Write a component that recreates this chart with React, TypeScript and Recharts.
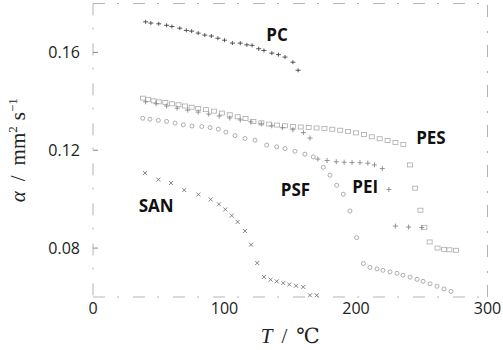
import { ScatterChart, Scatter, XAxis, YAxis, ReferenceLine, ReferenceDot } from 'recharts'

// T in °C, alpha in mm^2/s
const PC_T = [40, 44, 50, 56, 60, 66, 71, 75, 80, 85, 90, 95, 100, 106, 112, 117, 121, 126, 130, 136, 141, 146, 152, 156]
const PC_A = [0.1725, 0.172, 0.1717, 0.1711, 0.1706, 0.1699, 0.169, 0.1687, 0.1679, 0.1671, 0.1667, 0.1658, 0.165, 0.1638, 0.1638, 0.1631, 0.1629, 0.1615, 0.1608, 0.1597, 0.1591, 0.1581, 0.156, 0.1527]

const PES_T = [38, 42, 46, 50, 55, 60, 65, 70, 75, 80, 86, 92, 98, 104, 110, 116, 122, 128, 134, 140, 146, 152, 158, 164, 170, 176, 182, 188, 194, 200, 206, 212, 218, 224, 230, 236, 241, 245, 249, 252, 256, 262, 267, 271, 276]
const PES_A = [0.1413, 0.1408, 0.1402, 0.1398, 0.1395, 0.139, 0.1386, 0.1381, 0.1376, 0.1371, 0.1366, 0.136, 0.1352, 0.1345, 0.1337, 0.133, 0.1318, 0.1312, 0.1307, 0.1303, 0.13, 0.1297, 0.1295, 0.1293, 0.1291, 0.1289, 0.1286, 0.1282, 0.1277, 0.1271, 0.1264, 0.1255, 0.1247, 0.124, 0.1232, 0.1224, 0.114, 0.1045, 0.0955, 0.0885, 0.0825, 0.08, 0.0795, 0.0793, 0.0791]

const PEI_T = [40, 48, 56, 64, 72, 80, 88, 96, 104, 112, 120, 128, 136, 144, 152, 160, 165, 171, 178, 185, 191, 197, 203, 209, 214, 220, 225, 230, 240, 250]
const PEI_A = [0.1398, 0.139, 0.1381, 0.1372, 0.1364, 0.1356, 0.1348, 0.134, 0.1332, 0.1324, 0.1316, 0.1308, 0.13, 0.1292, 0.1284, 0.1272, 0.125, 0.1164, 0.1158, 0.1153, 0.1151, 0.115, 0.1149, 0.1147, 0.114, 0.1125, 0.104, 0.089, 0.0886, 0.0884]

const PSF_T = [37.8, 43.3, 49.7, 56, 62.4, 68.7, 75.3, 82.7, 89, 95.3, 101.1, 108, 115.6, 123.2, 132.1, 139.7, 146, 153.6, 161.2, 167.5, 175.1, 180.2, 185.3, 190.3, 195.4, 200.5, 205.6, 210.6, 216, 220.5, 225.9, 231.2, 235.7, 241.1, 246.4, 251, 256.3, 261.6, 266.9, 272.2]
const PSF_A = [0.1331, 0.1327, 0.1322, 0.1318, 0.1311, 0.1304, 0.1299, 0.1297, 0.1293, 0.1286, 0.1274, 0.126, 0.1248, 0.1241, 0.1221, 0.1214, 0.1207, 0.1196, 0.1184, 0.1173, 0.113, 0.1098, 0.1057, 0.102, 0.0952, 0.0843, 0.0737, 0.0721, 0.0715, 0.0709, 0.0703, 0.0697, 0.0689, 0.0681, 0.0672, 0.0664, 0.0654, 0.0644, 0.0633, 0.0623]

const SAN_T = [39.5, 49.7, 59.3, 69.4, 80.1, 89.5, 95.8, 100.6, 105.5, 110, 115.6, 120.2, 124.9, 130, 135.1, 139.7, 144.7, 149.3, 154.4, 159.9, 165, 170.1]
const SAN_A = [0.1107, 0.108, 0.1066, 0.1037, 0.1019, 0.0999, 0.0979, 0.0958, 0.0933, 0.0907, 0.087, 0.0814, 0.0739, 0.0682, 0.0671, 0.0664, 0.0657, 0.0651, 0.0646, 0.0641, 0.0607, 0.0607]

const X_TICKS = [0, 100, 200, 300]
const Y_TICKS = [0.08, 0.12, 0.16]

const LABELS = [
  { name: 'PC', t: 140, a: 0.1671 },
  { name: 'PES', t: 257, a: 0.1249 },
  { name: 'PEI', t: 207, a: 0.1049 },
  { name: 'PSF', t: 154, a: 0.1037 },
  { name: 'SAN', t: 48, a: 0.0971 },
]

const pts = (t: number[], a: number[]) => t.map((x, i) => ({ t: x, a: a[i] }))

const sans = '"Open Sans", sans-serif'
const serif = '"Liberation Serif", "DejaVu Serif", serif'
const frame = { stroke: '#b4b4b4', strokeDasharray: '12 12 2 14' }

const Plus = ({ cx, cy }: any) => (
  <path d={`M${cx - 2.5},${cy}h5M${cx},${cy - 2}v4`} stroke="#444" strokeWidth={0.9} fill="none" />
)
const PlusGrey = ({ cx, cy }: any) => (
  <path d={`M${cx - 2.5},${cy}h5M${cx},${cy - 2.5}v5`} stroke="#888" strokeWidth={0.9} fill="none" />
)
const Square = ({ cx, cy }: any) => (
  <rect x={cx - 2.5} y={cy - 2} width={5} height={4} stroke="#aaa" strokeWidth={0.8} fill="none" />
)
const Ring = ({ cx, cy }: any) => (
  <circle cx={cx} cy={cy} r={2} stroke="#999" strokeWidth={0.8} fill="none" />
)
const Cross = ({ cx, cy }: any) => (
  <path d={`M${cx - 2},${cy - 2}l4,4M${cx - 2},${cy + 2}l4,-4`} stroke="#666" strokeWidth={0.8} fill="none" />
)

const YTick = ({ x, y, payload }: any) => (
  <g>
    <line x1={x + 13} x2={x + 18} y1={y} y2={y} stroke="#888" />
    <text x={x} y={y} dy={6} textAnchor="end" fontFamily={sans} fontSize={16} fill="#222">
      {payload.value.toFixed(2)}
    </text>
  </g>
)

const XTick = ({ x, y, payload }: any) => (
  <text x={x} y={y} dy="0.71em" textAnchor="middle" fontFamily={sans} fontSize={16} fill="#222">
    {payload.value}
  </text>
)

const XTitle = ({ viewBox }: any) => {
  const cx = viewBox.x + viewBox.width / 2
  return (
    <text x={cx} y={343} textAnchor="middle" fontFamily={serif} fontSize={21} fill="#222">
      <tspan fontStyle="italic">T</tspan>
      <tspan dx={9}>/</tspan>
      <tspan dx={9}>℃</tspan>
    </text>
  )
}

const YTitle = ({ viewBox }: any) => {
  const cy = viewBox.y + viewBox.height / 2
  return (
    <text x={18} y={cy} transform={`rotate(-90, 18, ${cy})`} dy={7} textAnchor="middle" fontFamily={serif} fontSize={21} fill="#222">
      <tspan fontStyle="italic">α</tspan>
      <tspan dx={10}>/</tspan>
      <tspan dx={10}>mm</tspan>
      <tspan fontSize={13} dy={-8}>2</tspan>
      <tspan dx={6} dy={8}>s</tspan>
      <tspan fontSize={13} dy={-8}>−1</tspan>
    </text>
  )
}

export default function App() {
  return (
    <div style={{ position: 'absolute', left: 0, top: 0, background: '#fff' }}>
      <ScatterChart width={503} height={350} margin={{ top: 3.5, right: 15.5, bottom: 0, left: 0 }}>
        <XAxis
          type="number"
          dataKey="t"
          domain={[0, 300]}
          ticks={X_TICKS}
          tickSize={0}
          tickMargin={6}
          height={53}
          axisLine={frame}
          tick={<XTick />}
          label={{ content: <XTitle /> }}
        />
        <YAxis
          type="number"
          dataKey="a"
          domain={[0.06, 0.18]}
          ticks={Y_TICKS}
          tickSize={0}
          tickMargin={13}
          width={93}
          axisLine={frame}
          tick={<YTick />}
          label={{ content: <YTitle /> }}
        />
        <ReferenceLine x={300} {...frame} />
        <ReferenceLine y={0.18} {...frame} />
        <Scatter data={pts(PES_T, PES_A)} shape={Square} isAnimationActive={false} />
        <Scatter data={pts(PEI_T, PEI_A)} shape={PlusGrey} isAnimationActive={false} />
        <Scatter data={pts(PSF_T, PSF_A)} shape={Ring} isAnimationActive={false} />
        <Scatter data={pts(PC_T, PC_A)} shape={Plus} isAnimationActive={false} />
        <Scatter data={pts(SAN_T, SAN_A)} shape={Cross} isAnimationActive={false} />
        {LABELS.map(l => (
          <ReferenceDot
            key={l.name}
            x={l.t}
            y={l.a}
            r={0}
            fill="none"
            stroke="none"
            label={{ value: l.name, position: 'center', fontFamily: sans, fontSize: 17, fontWeight: 700, fill: '#111' }}
          />
        ))}
      </ScatterChart>
    </div>
  )
}
